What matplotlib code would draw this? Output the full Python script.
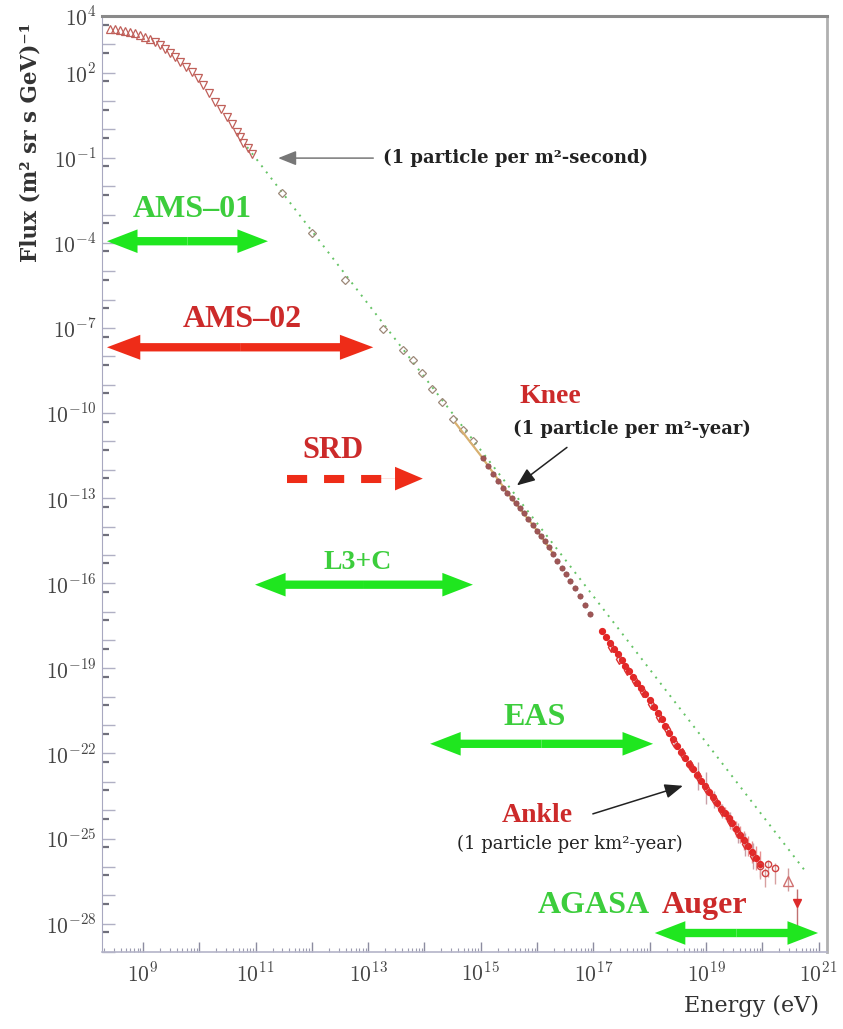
"""All-particle cosmic-ray energy spectrum with experiment coverage bands."""

import numpy as np
import matplotlib

matplotlib.use("Agg")
import matplotlib.pyplot as plt
from matplotlib.patches import FancyArrowPatch, ArrowStyle
from matplotlib.ticker import FixedLocator, FuncFormatter

# --- data: log10(E / eV) and log10(flux / (m^2 sr s GeV)^-1) ---
tri_up_logE = [8.41, 8.50, 8.59, 8.68, 8.77, 8.86, 8.95, 9.04, 9.12]
tri_up_logF = [3.54, 3.53, 3.51, 3.48, 3.44, 3.39, 3.33, 3.26, 3.19]

tri_dn_logE = [9.21, 9.30, 9.39, 9.48, 9.57, 9.66, 9.76, 9.87, 9.97, 10.07,
               10.17, 10.28, 10.38, 10.49, 10.58, 10.67, 10.73, 10.78, 10.86, 10.94]
tri_dn_logF = [3.09, 2.98, 2.85, 2.70, 2.55, 2.38, 2.21, 2.03, 1.81, 1.57,
               1.28, 0.97, 0.71, 0.44, 0.18, -0.09, -0.28, -0.48, -0.66, -0.87]

# E^-2.7-ish reference power law
fit_logE = [10.85, 20.76]
fit_logF = [-0.62, -26.14]

diamond_logE = [11.47, 12.00, 12.59, 13.26, 13.62, 13.80, 13.96, 14.14, 14.31,
                14.51, 14.68, 14.86]
diamond_logF = [-2.25, -3.66, -5.30, -7.05, -7.79, -8.14, -8.60, -9.15, -9.62,
                -10.20, -10.61, -10.97]

tibet_logE = [14.55, 15.00, 15.50, 16.00, 16.30]
tibet_logF = [-10.35, -11.50, -12.88, -14.14, -15.00]

knee_logE = [15.04, 15.13, 15.22, 15.30, 15.39, 15.47, 15.55, 15.62, 15.70, 15.77,
             15.84, 15.92, 16.00, 16.07, 16.14, 16.21, 16.28, 16.36, 16.44, 16.51,
             16.58, 16.67, 16.76, 16.85, 16.94]
knee_logF = [-11.60, -11.87, -12.13, -12.38, -12.63, -12.81, -12.98, -13.16, -13.33,
             -13.53, -13.72, -13.93, -14.14, -14.32, -14.50, -14.73, -14.96, -15.20,
             -15.45, -15.68, -15.91, -16.17, -16.44, -16.75, -17.07]

band_logE = [17.15, 17.22, 17.29, 17.36, 17.43, 17.50, 17.57, 17.64, 17.71, 17.78,
             17.85, 17.92, 18.00, 18.07, 18.14, 18.21, 18.28, 18.35, 18.42, 18.49,
             18.56, 18.63, 18.70, 18.77, 18.84, 18.91, 18.98, 19.05, 19.12, 19.19,
             19.26, 19.33, 19.40, 19.47, 19.54, 19.61, 19.68, 19.75, 19.82, 19.89, 19.96]
band_logF = [-17.67, -17.90, -18.10, -18.31, -18.50, -18.70, -18.90, -19.11, -19.30,
             -19.52, -19.70, -19.90, -20.12, -20.36, -20.57, -20.80, -21.04, -21.27,
             -21.48, -21.73, -21.94, -22.17, -22.38, -22.55, -22.75, -22.96, -23.15,
             -23.36, -23.55, -23.75, -23.95, -24.10, -24.28, -24.46, -24.66, -24.86,
             -25.06, -25.26, -25.47, -25.70, -25.90]
band_err = [0.04, 0.04, 0.04, 0.04, 0.04, 0.04, 0.04, 0.05, 0.05, 0.05,
            0.05, 0.05, 0.05, 0.05, 0.06, 0.06, 0.06, 0.06, 0.07, 0.07,
            0.08, 0.08, 0.09, 0.10, 0.10, 0.12, 0.12, 0.14, 0.15, 0.16,
            0.18, 0.20, 0.22, 0.25, 0.28, 0.30, 0.33, 0.35, 0.40, 0.42, 0.45]

hires_logE = [17.32, 17.46, 17.60, 17.74, 17.88, 18.02, 18.16, 18.30, 18.44, 18.58,
              18.72, 18.86, 19.00, 19.14, 19.28, 19.42, 19.56, 19.70, 19.84]
hires_logF = [-18.25, -18.66, -19.05, -19.46, -19.85, -20.25, -20.70, -21.13, -21.58,
              -22.00, -22.42, -22.80, -23.22, -23.62, -24.02, -24.38, -24.80, -25.20, -25.62]
hires_err = [0.05, 0.05, 0.05, 0.05, 0.06, 0.06, 0.07, 0.08, 0.09, 0.10,
             0.12, 0.50, 0.55, 0.30, 0.25, 0.30, 0.35, 0.40, 0.45]

tail_logE = [19.96, 20.05, 20.10, 20.23]
tail_logF = [-25.97, -26.20, -25.90, -26.04]
tail_err = [0.45, 0.50, 0.45, 0.55]

agasa_logE = [20.46]
agasa_logF = [-26.50]
agasa_err_lo = [0.35]
agasa_err_hi = [0.46]

auger_logE = [20.62]
auger_logF = [-27.27]
auger_err_lo = [0.99]
auger_err_hi = [0.49]

GREEN = "#1fe61f"
GREEN_TXT = "#3ccd3c"
RED = "#ee2c18"
RED_TXT = "#cc2a2a"


def p10(v):
    return 10.0 ** np.asarray(v, dtype=float)


def log_err(logF, lo, hi=None):
    """Asymmetric yerr in linear units from errors given in dex."""
    logF = np.asarray(logF, dtype=float)
    lo = np.asarray(lo, dtype=float)
    hi = lo if hi is None else np.asarray(hi, dtype=float)
    return [p10(logF) - p10(logF - lo), p10(logF + hi) - p10(logF)]


def span_arrow(ax, e0, e1, flux, color, head_len=2.2, head_w=1.7, tail_w=0.6):
    """Thick double-headed arrow marking an energy range."""
    mid = np.sqrt(e0 * e1)
    style = ArrowStyle("simple", head_length=head_len, head_width=head_w,
                       tail_width=tail_w)
    for end in (e0, e1):
        ax.add_patch(FancyArrowPatch((mid, flux), (end, flux), arrowstyle=style,
                                     mutation_scale=10, color=color, lw=0,
                                     shrinkA=0, shrinkB=0, zorder=4))


def note_arrow(ax, tail, head, line="#222222"):
    ax.add_patch(FancyArrowPatch(tail, head,
                                 arrowstyle="-|>,head_length=0.55,head_width=0.22",
                                 mutation_scale=20, color=line, lw=1.1,
                                 shrinkA=0, shrinkB=0, zorder=5))


plt.rcParams["mathtext.fontset"] = "cm"
fig = plt.figure(figsize=(8.43, 10.29), dpi=100)
ax = fig.add_axes([102 / 843, 1 - 952 / 1029, 725 / 843, 936 / 1029])
ax.set_xscale("log")
ax.set_yscale("log")
ax.set_xlim(10 ** 8.272, 10 ** 21.149)
ax.set_ylim(1e-29, 1e4)

# reference power law
ax.plot(p10(fit_logE), p10(fit_logF), ls=(0, (1, 3)), color="#66c466", lw=1.4, zorder=2)

# direct measurements
ax.plot(p10(tri_up_logE), p10(tri_up_logF), ls="none", marker="^", ms=5.5,
        mfc="none", mec="#c0605a", mew=0.9, zorder=3)
ax.plot(p10(tri_dn_logE), p10(tri_dn_logF), ls="none", marker="v", ms=5.5,
        mfc="none", mec="#c0605a", mew=0.9, zorder=3)
ax.plot(p10(diamond_logE), p10(diamond_logF), ls="none", marker="D", ms=4.5,
        mfc="none", mec="#9c8878", mew=0.9, zorder=3)

# knee region
ax.plot(p10(tibet_logE), p10(tibet_logF), color="#d8b070", lw=1.6, zorder=3)
ax.plot(p10(knee_logE), p10(knee_logF), ls="none", marker="o", ms=3.8,
        mfc="#a05656", mec="#8a4a4a", mew=0.5, zorder=3)

# air-shower data above 1e17 eV
ax.errorbar(p10(band_logE), p10(band_logF), yerr=log_err(band_logF, band_err),
            fmt="o", ms=4.2, color="#e32626", ecolor="#e89090", elinewidth=1.0,
            capsize=0, zorder=3)
ax.errorbar(p10(hires_logE), p10(hires_logF), yerr=log_err(hires_logF, hires_err),
            fmt="d", ms=5, mfc="none", mec="#dd3030", ecolor="#c8a0a8",
            elinewidth=1.0, capsize=0, zorder=3)
ax.errorbar(p10(tail_logE), p10(tail_logF),
            yerr=log_err(tail_logF, tail_err, np.asarray(tail_err) * 0.3),
            fmt="o", ms=4.5, mfc="none", mec="#d04040", ecolor="#d8a0a0",
            elinewidth=1.0, capsize=0, zorder=3)
ax.errorbar(p10(agasa_logE), p10(agasa_logF),
            yerr=log_err(agasa_logF, agasa_err_lo, agasa_err_hi),
            fmt="^", ms=7, mfc="none", mec="#d07070", ecolor="#d09a9a",
            elinewidth=1.0, capsize=0, zorder=3)
ax.errorbar(p10(auger_logE), p10(auger_logF),
            yerr=log_err(auger_logF, auger_err_lo, auger_err_hi),
            fmt="v", ms=6, color="#dd2a2a", ecolor="#c07070",
            elinewidth=1.0, capsize=0, zorder=3)

# experiment coverage
span_arrow(ax, 10 ** 8.36, 10 ** 11.22, 10 ** -3.94, GREEN)
span_arrow(ax, 10 ** 8.36, 10 ** 13.09, 10 ** -7.68, RED, head_len=2.4, head_w=1.8)
span_arrow(ax, 10 ** 10.99, 10 ** 14.86, 10 ** -16.05, GREEN)
span_arrow(ax, 10 ** 14.10, 10 ** 18.06, 10 ** -21.66, GREEN)
span_arrow(ax, 10 ** 18.09, 10 ** 20.99, 10 ** -28.33, GREEN)

# SRD: dashed shaft + solid head
ax.plot([10 ** 11.56, 10 ** 13.42], [10 ** -12.31] * 2, color=RED, lw=5.8,
        ls=(0, (2.5, 2.1)), solid_capstyle="butt", dash_capstyle="butt", zorder=4)
ax.add_patch(FancyArrowPatch((10 ** 13.2, 10 ** -12.31), (10 ** 13.97, 10 ** -12.31),
                             arrowstyle=ArrowStyle("simple", head_length=2.0,
                                                   head_width=1.7, tail_width=0.01),
                             mutation_scale=10, color=RED, lw=0,
                             shrinkA=0, shrinkB=0, zorder=4))

lab = dict(family="Liberation Serif", fontweight="bold", ha="center", va="baseline",
           zorder=6)
ax.text(10 ** 9.87, 10 ** -3.09, "AMS\u201301", color=GREEN_TXT, fontsize=23, **lab)
ax.text(10 ** 10.76, 10 ** -6.98, "AMS\u201302", color=RED_TXT, fontsize=23, **lab)
ax.text(10 ** 12.37, 10 ** -11.60, "SRD", color=RED_TXT, fontsize=22, **lab)
ax.text(10 ** 12.82, 10 ** -15.48, "L3+C", color=GREEN_TXT, fontsize=20, **lab)
ax.text(10 ** 15.96, 10 ** -20.99, "EAS", color=GREEN_TXT, fontsize=23, **lab)
ax.text(10 ** 17.01, 10 ** -27.63, "AGASA", color=GREEN_TXT, fontsize=23, **lab)
ax.text(10 ** 18.98, 10 ** -27.63, "Auger", color=RED_TXT, fontsize=23, **lab)
ax.text(10 ** 16.23, 10 ** -9.66, "Knee", color=RED_TXT, fontsize=20, **lab)
ax.text(10 ** 16.00, 10 ** -24.42, "Ankle", color=RED_TXT, fontsize=20, **lab)

note = dict(family=["DejaVu Serif", "DejaVu Sans"], color="#222222", va="baseline",
            fontsize=13, zorder=6)
ax.text(10 ** 13.26, 10 ** -1.19, "(1 particle per m\u00b2-second)", ha="left",
        fontweight="bold", **note)
ax.text(10 ** 15.57, 10 ** -10.72, "(1 particle per m\u00b2-year)", ha="left",
        fontweight="semibold", **note)
ax.text(10 ** 18.59, 10 ** -25.37, "(1 particle per km\u00b2-year)", ha="right",
        **note)

note_arrow(ax, (10 ** 13.09, 10 ** -1.01), (10 ** 11.40, 10 ** -1.01), line="#777777")
note_arrow(ax, (10 ** 16.53, 10 ** -11.21), (10 ** 15.64, 10 ** -12.55))
note_arrow(ax, (10 ** 16.99, 10 ** -24.13), (10 ** 18.59, 10 ** -23.14))

# axes frame and ticks
ax.spines["top"].set_color("#8a8a8a")
ax.spines["top"].set_linewidth(2.2)
ax.spines["right"].set_color("#b0b0b0")
ax.spines["right"].set_linewidth(2.0)
ax.spines["left"].set_color("#a8a8c0")
ax.spines["bottom"].set_color("#b4b4c8")
ax.spines["bottom"].set_linewidth(1.2)

x_labelled = {9, 11, 13, 15, 17, 19, 21}
y_labelled = {4, 2, -1, -4, -7, -10, -13, -16, -19, -22, -25, -28}


def decade_fmt(keep):
    def _fmt(v, _pos):
        n = int(round(np.log10(v)))
        return rf"$10^{{{n}}}$" if n in keep else ""
    return FuncFormatter(_fmt)


ax.xaxis.set_major_locator(FixedLocator(p10(np.arange(8, 22))))
ax.xaxis.set_minor_locator(FixedLocator([k * 10.0 ** n for n in range(8, 22)
                                         for k in range(2, 10)]))
ax.xaxis.set_major_formatter(decade_fmt(x_labelled))
ax.yaxis.set_major_locator(FixedLocator(p10(np.arange(-29, 5))))
ax.yaxis.set_minor_locator(FixedLocator(5 * p10(np.arange(-30, 4))))
ax.yaxis.set_major_formatter(decade_fmt(y_labelled))
ax.xaxis.set_minor_formatter(FuncFormatter(lambda v, p: ""))
ax.yaxis.set_minor_formatter(FuncFormatter(lambda v, p: ""))

ax.tick_params(axis="x", which="major", direction="in", length=7, width=1.0,
               color="#8c8ca0", labelsize=15.5, labelcolor="#444444", pad=7)
ax.tick_params(axis="x", which="minor", direction="in", length=3, width=0.8,
               color="#9c9cb0")
ax.tick_params(axis="y", which="major", direction="in", length=9, width=1.0,
               color="#b0b0c4", labelsize=15.5, labelcolor="#444444", pad=4)
ax.tick_params(axis="y", which="minor", direction="in", length=5, width=1.6,
               color="#70707c")

fig.text(31 / 843, 1 - 142 / 1029, "Flux (m\u00b2 sr s GeV)\u207b\u00b9", rotation=90,
         ha="center", va="center", fontsize=15.5, fontweight="bold", color="#333333",
         family=["DejaVu Serif", "DejaVu Sans"])
fig.text(752 / 843, 1 - 1012 / 1029, "Energy (eV)", ha="center", va="baseline",
         fontsize=16, color="#333333", family=["DejaVu Serif", "DejaVu Sans"])

fig.savefig("out.png", dpi=100)
